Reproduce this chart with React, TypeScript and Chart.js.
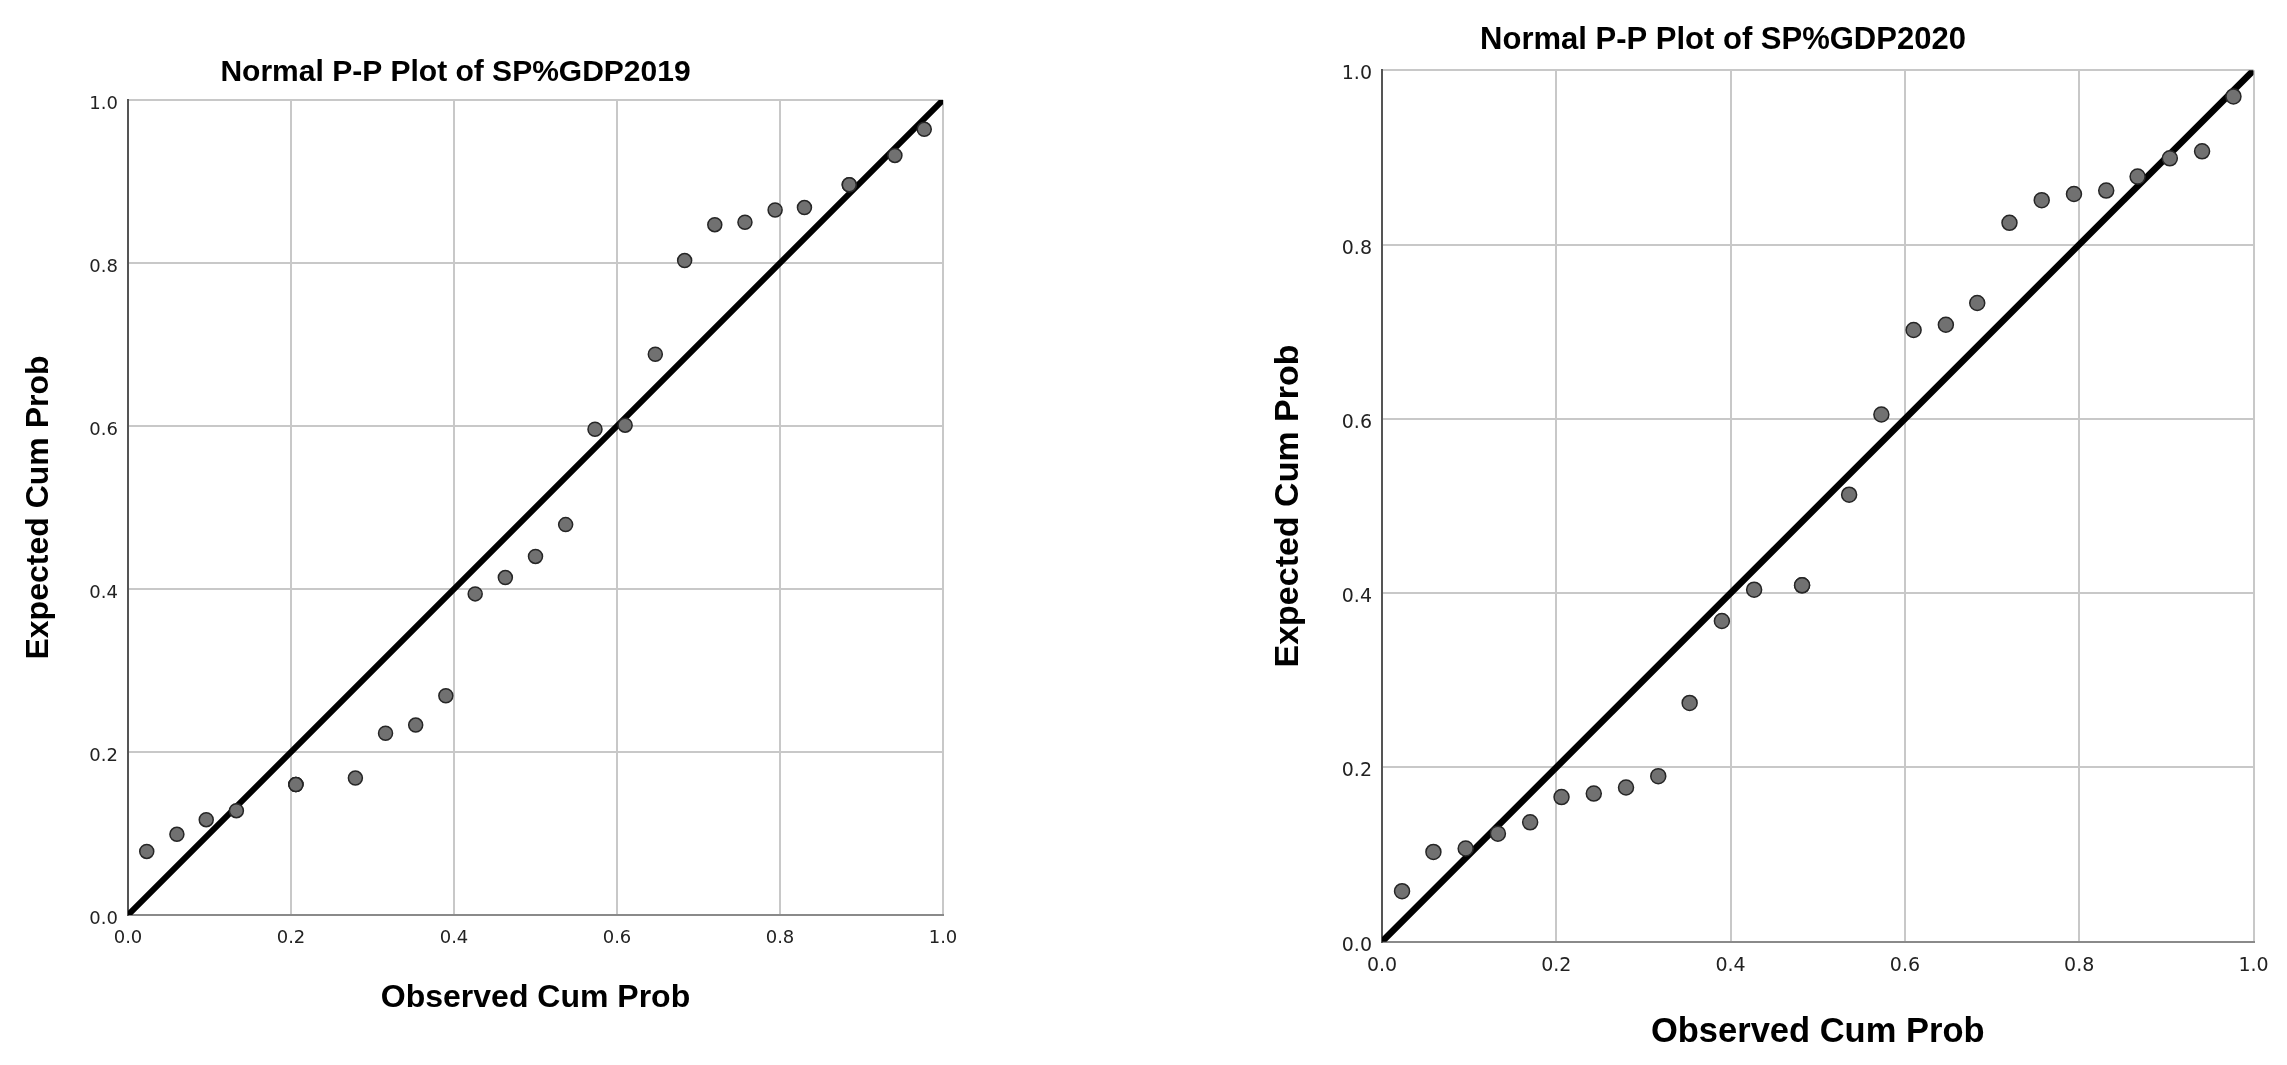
import React, { useEffect, useRef } from "react";
import { Chart, registerables } from "chart.js";
Chart.register(...registerables);

// ---------- data ----------
const tickLabels = ["0.0", "0.2", "0.4", "0.6", "0.8", "1.0"];
const refLineX = [0, 1];
const refLineY = [0, 1];

const observed2019 = [
  0.023, 0.06, 0.096, 0.133, 0.206, 0.206, 0.206, 0.279, 0.316, 0.353, 0.39,
  0.426, 0.463, 0.5, 0.537, 0.573, 0.61, 0.647, 0.683, 0.72, 0.757, 0.794,
  0.83, 0.885, 0.885, 0.941, 0.977,
];
const expected2019 = [
  0.078, 0.099, 0.117, 0.128, 0.16, 0.16, 0.16, 0.168, 0.223, 0.233, 0.269,
  0.394, 0.414, 0.44, 0.479, 0.596, 0.601, 0.688, 0.803, 0.847, 0.85, 0.865,
  0.868, 0.896, 0.896, 0.932, 0.964,
];

const observed2020 = [
  0.023, 0.059, 0.096, 0.133, 0.17, 0.206, 0.243, 0.28, 0.317, 0.353, 0.39,
  0.427, 0.482, 0.482, 0.536, 0.573, 0.61, 0.647, 0.683, 0.72, 0.757, 0.794,
  0.831, 0.867, 0.904, 0.941, 0.977,
];
const expected2020 = [
  0.058, 0.103, 0.107, 0.124, 0.137, 0.166, 0.17, 0.177, 0.19, 0.274, 0.368,
  0.404, 0.409, 0.409, 0.513, 0.605, 0.702, 0.708, 0.733, 0.825, 0.851, 0.858,
  0.862, 0.878, 0.899, 0.907, 0.97,
];

const chartTitles = ["Normal P-P Plot of SP%GDP2019", "Normal P-P Plot of SP%GDP2020"];
const xAxisTitle = "Observed Cum Prob";
const yAxisTitle = "Expected Cum Prob";

// ---------- styling / layout ----------
const FONT = '"Liberation Sans", Arial, sans-serif';
const TICK_FONT = '"DejaVu Sans", sans-serif';

type Lay = {
  left: number;
  width: number;
  height: number;
  padL: number;
  padR: number;
  yWidth: number;
  xHeight: number;
  titleSize: number;
  titlePadT: number;
  titlePadB: number;
  xTitleSize: number;
  xTitlePad: number;
  yTitleSize: number;
  yTitlePad: number;
  tickSize: number;
  xTickPad: number;
  yTickPad: number;
  pointRadius: number;
  lineWidth: number;
};

const layLeft: Lay = {
  left: -32,
  width: 1175,
  height: 1065,
  padL: 0,
  padR: 200,
  yWidth: 160,
  xHeight: 150,
  titleSize: 30,
  titlePadT: 54.9,
  titlePadB: 9.1,
  xTitleSize: 32,
  xTitlePad: 47.8,
  yTitleSize: 32,
  yTitlePad: 51.8,
  tickSize: 18,
  xTickPad: 13,
  yTickPad: 10,
  pointRadius: 7,
  lineWidth: 6,
};

const layRight: Lay = {
  left: 1143,
  width: 1144,
  height: 1065,
  padL: 49.5,
  padR: 33.5,
  yWidth: 189.5,
  xHeight: 123.3,
  titleSize: 31,
  titlePadT: 21.4,
  titlePadB: 11.7,
  xTitleSize: 34.5,
  xTitlePad: 12.3,
  yTitleSize: 34,
  yTitlePad: 76.1,
  tickSize: 19,
  xTickPad: 13,
  yTickPad: 10,
  pointRadius: 7.5,
  lineWidth: 6.5,
};

function PPPlot(props: { observed: number[]; expected: number[]; title: string; lay: Lay }) {
  const { observed, expected, title, lay } = props;
  const ref = useRef<HTMLCanvasElement>(null);

  useEffect(() => {
    if (!ref.current) return;
    const chart = new Chart(ref.current, {
      type: "scatter",
      data: {
        datasets: [
          {
            type: "scatter",
            data: observed.map((x, i) => ({ x, y: expected[i] })),
            pointRadius: lay.pointRadius,
            pointHoverRadius: lay.pointRadius,
            pointBackgroundColor: "#717171",
            pointBorderColor: "#262626",
            pointBorderWidth: 1.5,
          },
          {
            type: "line",
            data: refLineX.map((x, i) => ({ x, y: refLineY[i] })),
            borderColor: "#000000",
            borderWidth: lay.lineWidth,
            pointRadius: 0,
            fill: false,
            tension: 0,
          } as any,
        ],
      },
      options: {
        responsive: false,
        animation: false,
        layout: { padding: { left: lay.padL, right: lay.padR, top: 0, bottom: 0 } },
        plugins: {
          legend: { display: false },
          tooltip: { enabled: false },
          title: {
            display: true,
            text: title,
            color: "#000000",
            font: { family: FONT, size: lay.titleSize, weight: "bold", lineHeight: 1.2 },
            padding: { top: lay.titlePadT, bottom: lay.titlePadB },
          },
        },
        scales: {
          x: {
            type: "linear",
            min: 0,
            max: 1,
            ticks: {
              stepSize: 0.2,
              autoSkip: false,
              maxRotation: 0,
              callback: (_v: any, i: number) => tickLabels[i],
              color: "#222222",
              font: { family: TICK_FONT, size: lay.tickSize },
              padding: lay.xTickPad,
            },
            grid: { color: "#c8c8c8", lineWidth: 2, drawTicks: false },
            border: { color: "#8a8a8a", width: 2 },
            title: {
              display: true,
              text: xAxisTitle,
              color: "#000000",
              font: { family: FONT, size: lay.xTitleSize, weight: "bold", lineHeight: 1.2 },
              padding: { top: 0, bottom: lay.xTitlePad },
            },
            afterFit: (s: any) => {
              s.height = lay.xHeight;
            },
          },
          y: {
            type: "linear",
            min: 0,
            max: 1,
            ticks: {
              stepSize: 0.2,
              autoSkip: false,
              callback: (_v: any, i: number) => tickLabels[i],
              color: "#222222",
              font: { family: TICK_FONT, size: lay.tickSize },
              padding: lay.yTickPad,
              labelOffset: 4,
            },
            grid: { color: "#c8c8c8", lineWidth: 2, drawTicks: false },
            border: { color: "#555555", width: 2 },
            title: {
              display: true,
              text: yAxisTitle,
              color: "#000000",
              font: { family: FONT, size: lay.yTitleSize, weight: "bold", lineHeight: 1.2 },
              padding: { top: lay.yTitlePad, bottom: 0 },
            },
            afterFit: (s: any) => {
              s.width = lay.yWidth;
            },
          },
        },
      } as any,
    });
    return () => chart.destroy();
  }, []);

  return (
    <canvas
      ref={ref}
      width={lay.width}
      height={lay.height}
      style={{ position: "absolute", left: lay.left, top: 0, width: lay.width, height: lay.height }}
    />
  );
}

export default function App() {
  return (
    <div
      style={{
        position: "absolute",
        left: 0,
        top: 0,
        width: 2287,
        height: 1065,
        overflow: "hidden",
        background: "#ffffff",
      }}
    >
      <PPPlot observed={observed2019} expected={expected2019} title={chartTitles[0]} lay={layLeft} />
      <PPPlot observed={observed2020} expected={expected2020} title={chartTitles[1]} lay={layRight} />
    </div>
  );
}
